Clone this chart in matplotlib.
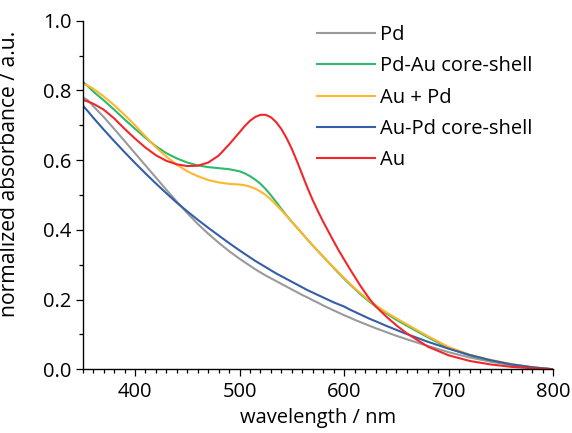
import numpy as np
import matplotlib
matplotlib.use("Agg")
import matplotlib.pyplot as plt
from matplotlib.ticker import MultipleLocator, FormatStrFormatter

plt.rcParams['font.family'] = ['Open Sans', 'DejaVu Sans']

# Wavelength grid (nm)
wl = [350, 355, 360, 370, 380, 390, 400, 410, 420, 430, 440, 450, 460, 470,
      480, 490, 500, 505, 510, 515, 520, 525, 530, 535, 540, 545, 550, 555,
      560, 565, 570, 575, 580, 585, 590, 595, 600, 605, 610, 615, 620, 625,
      630, 640, 650, 660, 680, 700, 720, 740, 760, 780, 800]

pd_abs = [0.780, 0.772, 0.755, 0.724, 0.690, 0.655, 0.620, 0.585, 0.550, 0.515,
          0.481, 0.448, 0.417, 0.389, 0.363, 0.339, 0.317, 0.307, 0.297, 0.287,
          0.278, 0.269, 0.261, 0.253, 0.245, 0.237, 0.229, 0.221, 0.213, 0.206,
          0.198, 0.191, 0.183, 0.176, 0.169, 0.162, 0.155, 0.149, 0.142, 0.136,
          0.130, 0.124, 0.118, 0.107, 0.096, 0.086, 0.067, 0.049, 0.034, 0.022,
          0.012, 0.005, 0.000]

pdau_cs = [0.825, 0.812, 0.797, 0.772, 0.745, 0.717, 0.690, 0.664, 0.640, 0.620,
           0.605, 0.593, 0.585, 0.580, 0.577, 0.574, 0.568, 0.562, 0.554, 0.544,
           0.532, 0.517, 0.499, 0.480, 0.460, 0.441, 0.423, 0.406, 0.389, 0.372,
           0.355, 0.339, 0.323, 0.307, 0.291, 0.275, 0.260, 0.245, 0.231, 0.217,
           0.204, 0.192, 0.181, 0.161, 0.142, 0.125, 0.092, 0.061, 0.040, 0.025,
           0.013, 0.005, 0.000]

au_pd_mix = [0.818, 0.814, 0.805, 0.783, 0.758, 0.730, 0.700, 0.668, 0.637, 0.610,
             0.587, 0.568, 0.554, 0.543, 0.536, 0.532, 0.530, 0.528, 0.524, 0.518,
             0.510, 0.500, 0.487, 0.472, 0.456, 0.440, 0.423, 0.406, 0.389, 0.372,
             0.355, 0.339, 0.323, 0.307, 0.292, 0.277, 0.262, 0.247, 0.233, 0.220,
             0.207, 0.195, 0.184, 0.164, 0.146, 0.129, 0.095, 0.064, 0.042, 0.027,
             0.015, 0.006, 0.000]

aupd_cs = [0.757, 0.740, 0.722, 0.688, 0.655, 0.623, 0.592, 0.562, 0.533, 0.505,
           0.478, 0.453, 0.429, 0.406, 0.384, 0.362, 0.341, 0.331, 0.321, 0.311,
           0.302, 0.293, 0.284, 0.275, 0.267, 0.259, 0.251, 0.243, 0.235, 0.227,
           0.220, 0.213, 0.206, 0.199, 0.192, 0.186, 0.180, 0.172, 0.165, 0.158,
           0.151, 0.144, 0.138, 0.125, 0.113, 0.101, 0.079, 0.059, 0.041, 0.026,
           0.014, 0.006, 0.000]

au_abs = [0.773, 0.768, 0.762, 0.745, 0.720, 0.690, 0.662, 0.636, 0.614, 0.598,
          0.588, 0.583, 0.584, 0.593, 0.613, 0.645, 0.680, 0.698, 0.713, 0.724,
          0.730, 0.730, 0.723, 0.709, 0.689, 0.663, 0.632, 0.596, 0.558, 0.520,
          0.485, 0.453, 0.423, 0.395, 0.367, 0.340, 0.315, 0.290, 0.266, 0.242,
          0.220, 0.199, 0.181, 0.152, 0.126, 0.103, 0.065, 0.040, 0.024, 0.014,
          0.007, 0.003, 0.000]

labels = ["Pd", "Pd-Au core-shell", "Au + Pd", "Au-Pd core-shell", "Au"]
colors = ["#9a9a9a", "#2fb96c", "#ffb62b", "#345ea8", "#f0282d"]
series = [pd_abs, pdau_cs, au_pd_mix, aupd_cs, au_abs]

fig = plt.figure(figsize=(5.72, 4.33), dpi=100)
ax = fig.add_axes([82.7 / 572, 1 - 369.3 / 433, (553.3 - 82.7) / 572, (369.3 - 20.7) / 433])

for y, c, lab in zip(series, colors, labels):
    ax.plot(wl, y, color=c, lw=1.5, label=lab)

ax.set_xlim(350, 800)
ax.set_ylim(0, 1.0)
ax.xaxis.set_major_locator(MultipleLocator(100))
ax.xaxis.set_minor_locator(MultipleLocator(10))
ax.yaxis.set_major_locator(MultipleLocator(0.2))
ax.yaxis.set_minor_locator(MultipleLocator(0.1))
ax.yaxis.set_major_formatter(FormatStrFormatter('%.1f'))

for s in ['top', 'right']:
    ax.spines[s].set_visible(False)
for s in ['left', 'bottom']:
    ax.spines[s].set_linewidth(1.0)

ax.tick_params(which='major', direction='out', length=4.8, width=0.9, labelsize=14.5)
ax.tick_params(axis='y', which='major', pad=3)
ax.tick_params(axis='x', which='major', pad=4)
ax.tick_params(which='minor', direction='out', length=2.6, width=0.9)

ax.set_xlabel("wavelength / nm", fontsize=14.5, labelpad=5)
ax.set_ylabel("normalized absorbance / a.u.", fontsize=15.2)
ax.yaxis.set_label_coords(-0.133, 0.562)

ax.legend(loc='upper left', bbox_to_anchor=(316.7 / 572, 1 - 25 / 433),
          bbox_transform=fig.transFigure, frameon=False, fontsize=14.5,
          handlelength=2.9, handletextpad=0.25, labelspacing=0.56,
          borderpad=0, borderaxespad=0)

fig.savefig("out.png", dpi=100)
